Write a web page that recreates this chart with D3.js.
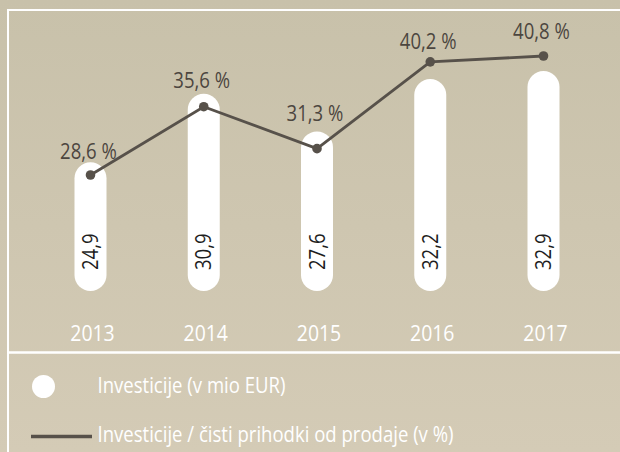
<!DOCTYPE html>
<html>
<head>
<meta charset="utf-8">
<script src="https://cdn.jsdelivr.net/npm/d3@7"></script>
<style>
    html, body { margin: 0; padding: 0; background: #cdc5af; }
    svg { display: block; }
    text { font-family: "Open Sans", "Noto Sans", sans-serif; }
</style>
</head>
<body>
<svg id="chart" width="620" height="452"></svg>
<script>
// Investicije chart data
const years = ['2013', '2014', '2015', '2016', '2017'];
const investments = [24.9, 30.9, 27.6, 32.2, 32.9];      // v mio EUR
const investmentShare = [28.6, 35.6, 31.3, 40.2, 40.8];  // v %
const legendLabels = ['Investicije (v mio EUR)', 'Investicije / čisti prihodki od prodaje (v %)'];

// hand-tuned nudges so percent labels clear the line
const labelLift = [16, 19, 28, 13, 17];

const W = 620, H = 452;
const barWidth = 32;
const barBottom = 291;
const legendWidth = 356; // width of the long legend line, used to condense the font

const colors = {
    bgTop: '#c8c1aa',
    bgBottom: '#d4cbb6',
    frame: '#ffffff',
    line: '#57514a',
    pctText: '#4c463f',
    valueText: '#1e1e1e'
};

const svg = d3.select('#chart');
const fmt = v => d3.format('.1f')(v).replace('.', ',');

// background gradient
const defs = svg.append('defs');
const grad = defs.append('linearGradient')
    .attr('id', 'bg')
    .attr('x1', 0).attr('y1', 0).attr('x2', 0).attr('y2', 1);
grad.append('stop').attr('offset', '0%').attr('stop-color', colors.bgTop);
grad.append('stop').attr('offset', '100%').attr('stop-color', colors.bgBottom);

svg.append('rect')
    .attr('width', W).attr('height', H)
    .attr('fill', 'url(#bg)');

// white frame lines
const frame = svg.append('g')
    .attr('stroke', colors.frame)
    .attr('fill', 'none');
frame.append('line').attr('x1', 7).attr('x2', W).attr('y1', 10).attr('y2', 10).attr('stroke-width', 2);
frame.append('line').attr('x1', 8).attr('x2', 8).attr('y1', 9).attr('y2', H).attr('stroke-width', 2);
frame.append('line').attr('x1', 8).attr('x2', W).attr('y1', 352.5).attr('y2', 352.5).attr('stroke-width', 2.5);

// scales
const x = d3.scalePoint()
    .domain(years)
    .range([90.5, 543.5]);

const yBar = d3.scaleLinear()
    .domain([13.6, 32.9])
    .range([barBottom, 71]);

const yLine = d3.scaleLinear()
    .domain([0, 40.8])
    .range([454, 56]);

// bars (pill shaped)
const barData = years.map((yr, i) => ({ year: yr, value: investments[i] }));

svg.append('g')
    .selectAll('rect')
    .data(barData)
    .join('rect')
    .attr('x', d => x(d.year) - barWidth / 2)
    .attr('y', d => yBar(d.value))
    .attr('width', barWidth)
    .attr('height', d => barBottom - yBar(d.value))
    .attr('rx', barWidth / 2)
    .attr('fill', '#ffffff');

// bar values, rotated
svg.append('g')
    .selectAll('text')
    .data(barData)
    .join('text')
    .attr('transform', d => `translate(${x(d.year)},${barBottom - 21}) rotate(-90)`)
    .attr('dy', '0.36em')
    .attr('fill', colors.valueText)
    .style('font-size', '21px')
    .text(d => fmt(d.value));

// line series
const lineData = years.map((yr, i) => ({ year: yr, value: investmentShare[i], lift: labelLift[i] }));

const line = d3.line()
    .x(d => x(d.year))
    .y(d => yLine(d.value));

svg.append('path')
    .datum(lineData)
    .attr('d', line)
    .attr('fill', 'none')
    .attr('stroke', colors.line)
    .attr('stroke-width', 2.8);

svg.append('g')
    .selectAll('circle')
    .data(lineData)
    .join('circle')
    .attr('cx', d => x(d.year))
    .attr('cy', d => yLine(d.value))
    .attr('r', 4.8)
    .attr('fill', colors.line);

svg.append('g')
    .selectAll('text')
    .data(lineData)
    .join('text')
    .attr('x', d => x(d.year) - 2)
    .attr('y', d => yLine(d.value) - d.lift)
    .attr('text-anchor', 'middle')
    .attr('fill', colors.pctText)
    .style('font-size', '21px')
    .style('font-weight', 500)
    .text(d => fmt(d.value) + ' %');

// year axis labels
svg.append('g')
    .selectAll('text')
    .data(years)
    .join('text')
    .attr('x', d => x(d) + 2)
    .attr('y', 341)
    .attr('text-anchor', 'middle')
    .attr('fill', '#ffffff')
    .style('font-size', '22px')
    .style('font-weight', 500)
    .text(d => d);

// legend
const legend = svg.append('g');
legend.append('circle')
    .attr('cx', 43.5).attr('cy', 386.5).attr('r', 11.5)
    .attr('fill', '#ffffff');
legend.append('line')
    .attr('x1', 31).attr('x2', 92)
    .attr('y1', 436.5).attr('y2', 436.5)
    .attr('stroke', colors.line)
    .attr('stroke-width', 3.5);

legend.selectAll('text.lg')
    .data(legendLabels)
    .join('text')
    .attr('class', 'lg')
    .attr('x', 97.5)
    .attr('y', (d, i) => 393 + i * 48.5)
    .attr('fill', '#ffffff')
    .style('font-size', '21px')
    .text(d => d);

// the original face is a condensed sans; squeeze every label by the same factor
const longLegend = legend.selectAll('text.lg').nodes()[1];
const squeeze = legendWidth / longLegend.getComputedTextLength();
svg.selectAll('text').each(function () {
    const len = this.getComputedTextLength();
    d3.select(this)
        .attr('textLength', len * squeeze)
        .attr('lengthAdjust', 'spacingAndGlyphs');
});
</script>
</body>
</html>
